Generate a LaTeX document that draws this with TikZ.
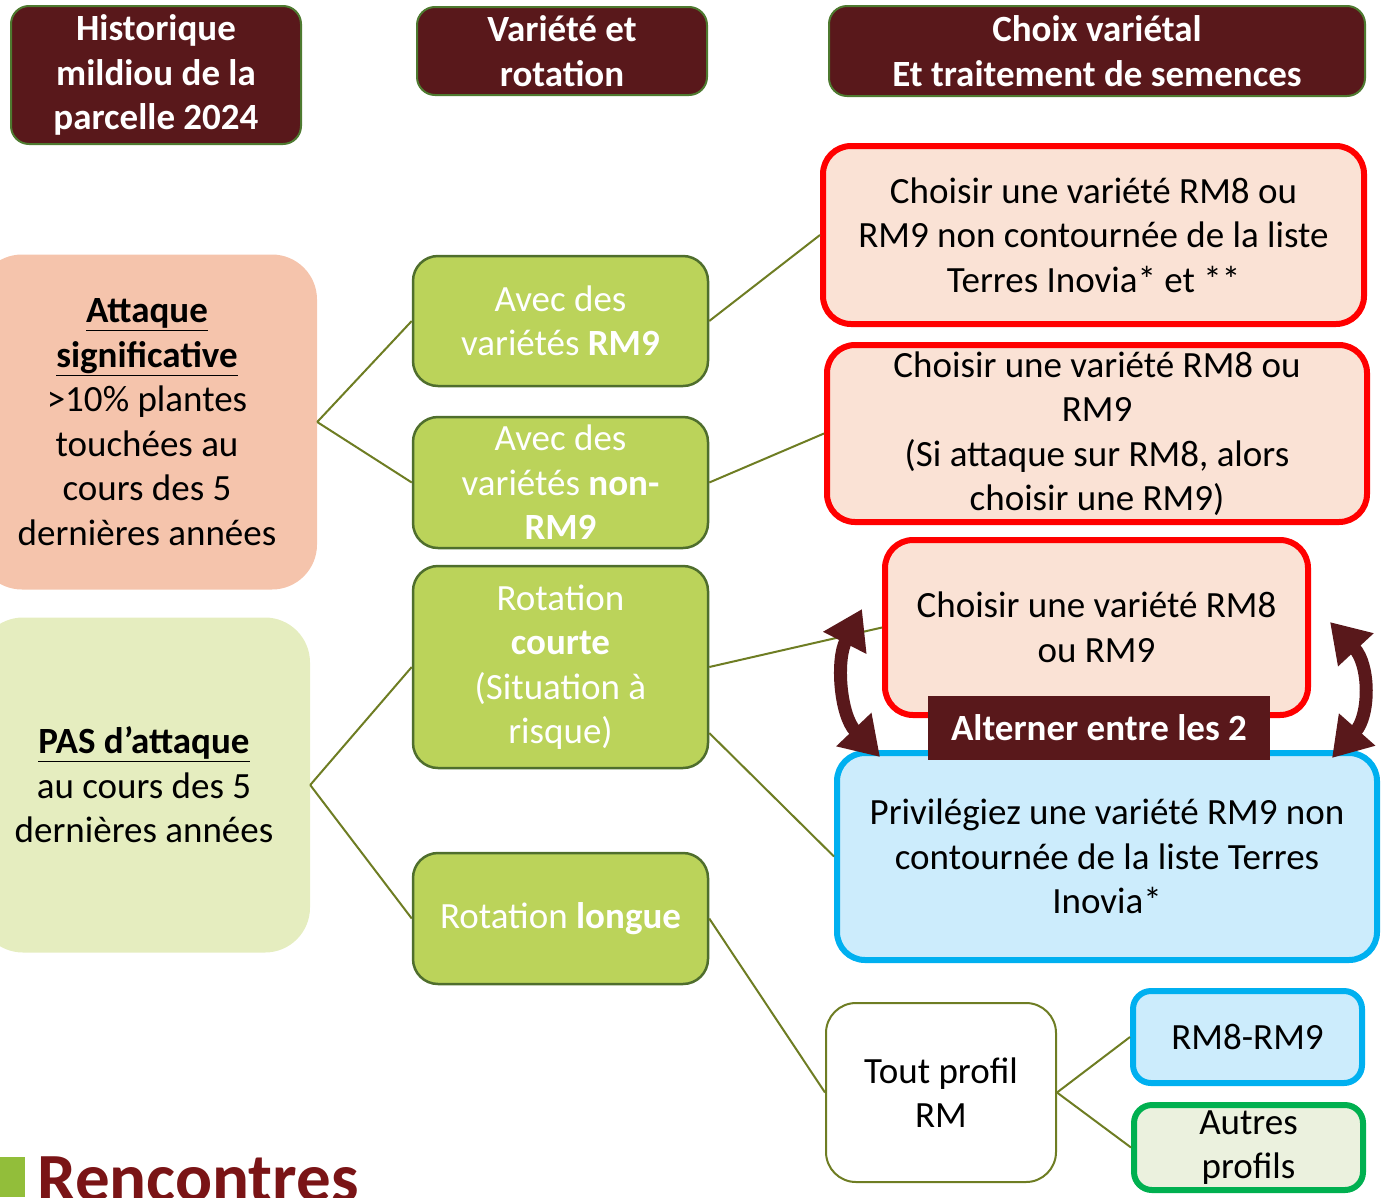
\documentclass[tikz,border=0pt]{standalone}
\usepackage{fontspec}
\setmainfont{Carlito}
\usetikzlibrary{arrows.meta}

\definecolor{bordeaux}{RGB}{89,24,27}
\definecolor{entetevert}{RGB}{78,122,48}
\definecolor{saumon}{RGB}{245,196,172}
\definecolor{vertpale}{RGB}{229,237,191}
\definecolor{vertmoyen}{RGB}{187,211,90}
\definecolor{vertbord}{RGB}{79,110,45}
\definecolor{rose}{RGB}{250,226,213}
\definecolor{bleupale}{RGB}{204,236,252}
\definecolor{bleu}{RGB}{0,176,240}
\definecolor{vertclair}{RGB}{235,241,222}
\definecolor{vertvif}{RGB}{0,176,80}
\definecolor{olive}{RGB}{110,125,35}
\definecolor{logorouge}{RGB}{122,20,22}
\definecolor{logovert}{RGB}{146,190,58}

\tikzset{
  txt/.style={align=center,inner sep=0pt,font=\fontsize{37}{44.5}\selectfont},
  entete/.style={txt,fill=bordeaux,draw=entetevert,line width=2pt,rounded corners=18pt,
    text=white,font=\fontsize{37}{44.5}\selectfont\bfseries},
  historique/.style={txt,rounded corners=45pt},
  variete/.style={txt,fill=vertmoyen,draw=vertbord,line width=2.5pt,rounded corners=25pt,
    text=white,minimum width=295pt},
  choixrouge/.style={txt,fill=rose,draw=red,line width=6pt,rounded corners=28pt},
  choixbleu/.style={txt,fill=bleupale,draw=bleu,line width=6pt,rounded corners=28pt},
  lien/.style={draw=olive,line width=2pt},
  alterne/.style={draw=bordeaux,line width=13pt,
    {Triangle[width=46pt,length=38pt]}-{Triangle[width=46pt,length=38pt]}}
}

\begin{document}
\begin{tikzpicture}[x=1pt,y=-1pt]
  \useasboundingbox (0,0) rectangle (1383,1197);
  \clip (0,0) rectangle (1383,1197);

  % en-tetes
  \node[entete,minimum width=290pt,minimum height=138pt] (hist) at (156,75)
    {Historique\\mildiou de la\\parcelle 2024};
  \node[entete,minimum width=290pt,minimum height=88pt] (varrot) at (562,51)
    {Variété et\\rotation};
  \node[entete,minimum width=536pt,minimum height=90pt] (choix) at (1097,51)
    {Choix variétal\\Et traitement de semences};

  % historique de la parcelle
  \node[historique,fill=saumon,minimum width=340pt,minimum height=335pt] (attaque) at (147,422)
    {\textbf{\underline{Attaque}}\\\textbf{\underline{significative}}\\>10\% plantes\\touchées au\\cours des 5\\dernières années};
  \node[historique,fill=vertpale,minimum width=332pt,minimum height=335pt] (pasatt) at (144,785)
    {\textbf{\underline{PAS d’attaque}}\\au cours des 5\\dernières années};

  % variete et rotation
  \node[variete,minimum height=130pt] (rmneuf) at (560.5,321) {Avec des\\variétés \textbf{RM9}};
  \node[variete,minimum height=131pt] (nonrm) at (560.5,482.5) {Avec des\\variétés \textbf{non-}\\\textbf{RM9}};
  \node[variete,minimum height=202pt] (courte) at (560.5,667) {Rotation\\\textbf{courte}\\(Situation à\\risque)};
  \node[variete,minimum height=131pt] (longue) at (560.5,918.5) {Rotation \textbf{longue}};

  % choix varietal
  \node[choixrouge,minimum width=541pt,minimum height=178pt] (choixa) at (1093.5,235)
    {Choisir une variété RM8 ou\\RM9 non contournée de la liste\\Terres Inovia* et **};
  \node[choixrouge,minimum width=540pt,minimum height=177pt] (choixb) at (1097,433.5)
    {Choisir une variété RM8 ou\\RM9\\(Si attaque sur RM8, alors\\choisir une RM9)};
  \node[choixrouge,minimum width=423pt,minimum height=175pt] (choixc) at (1096.5,627.5)
    {Choisir une variété RM8\\ou RM9};
  \node[choixbleu,minimum width=540pt,minimum height=207pt] (privil) at (1107,856.5)
    {Privilégiez une variété RM9 non\\contournée de la liste Terres\\Inovia*};
  \node[txt,fill=bordeaux,text=white,font=\fontsize{37}{44.5}\selectfont\bfseries,
    minimum width=342pt,minimum height=64pt] (alterner) at (1099,728) {Alterner entre les 2};
  \node[txt,fill=white,draw=olive,line width=2pt,rounded corners=30pt,
    minimum width=230pt,minimum height=179pt] (toutrm) at (941,1092.5) {Tout profil\\RM};
  \node[txt,fill=bleupale,draw=bleu,line width=6pt,rounded corners=18pt,
    minimum width=229pt,minimum height=92pt] (rmhuit) at (1247.5,1037) {RM8-RM9};
  \node[txt,fill=vertclair,draw=vertvif,line width=6pt,rounded corners=18pt,
    minimum width=229pt,minimum height=85pt] (autres) at (1248.5,1147.5) {Autres\\profils};

  % liens
  \draw[lien] (attaque.east) -- (rmneuf.west);
  \draw[lien] (attaque.east) -- (nonrm.west);
  \draw[lien] (pasatt.east) -- (courte.west);
  \draw[lien] (pasatt.east) -- (longue.west);
  \draw[lien] (rmneuf.east) -- (choixa.west);
  \draw[lien] (nonrm.east) -- (choixb.west);
  \draw[lien] (courte.east) -- (choixc.west);
  \draw[lien] ([yshift=-66pt]courte.east) -- (privil.west);
  \draw[lien] (longue.east) -- (toutrm.west);
  \draw[lien] (toutrm.east) -- (rmhuit.west);
  \draw[lien] (toutrm.east) -- (autres.west);

  % alternance
  \draw[alterne] (862,609) .. controls (836,660) and (840,715) .. (880,757);
  \draw[alterne] (1330,622) .. controls (1370,665) and (1370,715) .. (1332,758);

  % logo
  \fill[logovert] (0,1157) rectangle (25,1197);
  \node[anchor=base west,inner sep=0pt,text=logorouge,font=\fontsize{69}{69}\selectfont\bfseries]
    (logo) at (37,1201) {Rencontres};
\end{tikzpicture}
\end{document}
